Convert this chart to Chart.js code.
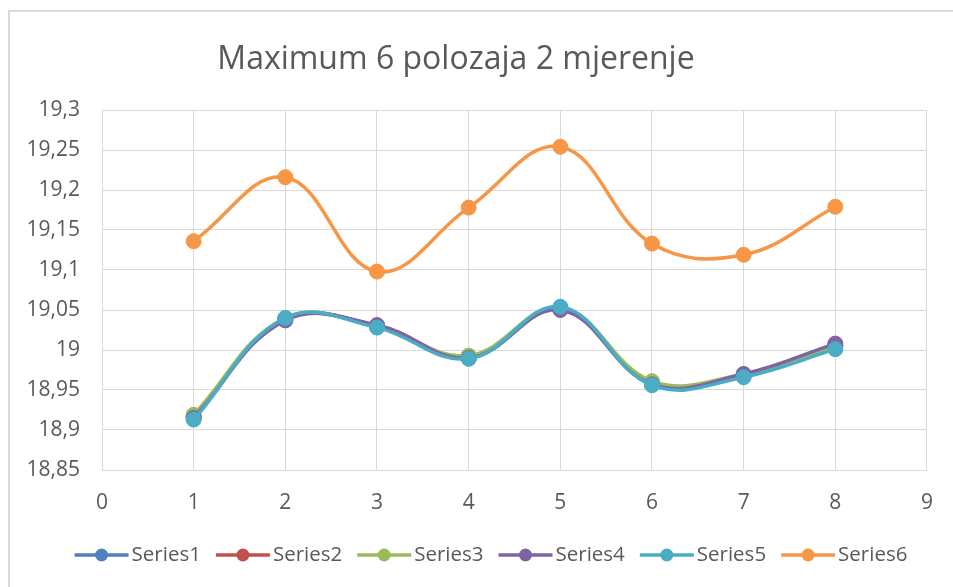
<!DOCTYPE html>
<html>
<head>
<meta charset="utf-8">
<title>Maximum 6 polozaja 2 mjerenje</title>
<script src="https://cdn.jsdelivr.net/npm/chart.js@4.4.1/dist/chart.umd.min.js"></script>
<style>
  html, body { margin: 0; padding: 0; background: #fff; }
  #wrap { width: 953px; height: 587px; position: relative; }
</style>
</head>
<body>
<div id="wrap"><canvas id="chart" width="953" height="587"></canvas></div>
<script>
// measurement positions 1..8
const positions = [1, 2, 3, 4, 5, 6, 7, 8];

const series1 = [18.916, 19.039, 19.030, 18.990, 19.052, 18.958, 18.968, 19.005];
const series2 = [18.917, 19.038, 19.031, 18.991, 19.051, 18.959, 18.969, 19.006];
const series3 = [18.919, 19.040, 19.029, 18.993, 19.053, 18.961, 18.970, 19.004];
const series4 = [18.915, 19.037, 19.031, 18.990, 19.050, 18.957, 18.970, 19.008];
const series5 = [18.913, 19.040, 19.028, 18.989, 19.054, 18.956, 18.966, 19.001];
const series6 = [19.136, 19.216, 19.098, 19.178, 19.254, 19.133, 19.119, 19.179];

const seriesNames = ['Series1', 'Series2', 'Series3', 'Series4', 'Series5', 'Series6'];
const seriesData = [series1, series2, series3, series4, series5, series6];
const colors = ['#4F81BD', '#C0504D', '#9BBB59', '#8064A2', '#4BACC6', '#F79646'];

const xMin = 0, xMax = 9, xStep = 1;
const yMin = 18.85, yMax = 19.3, yStep = 0.05;

const titleText = 'Maximum 6 polozaja 2 mjerenje';
const textColor = '#595959';
const gridColor = '#D9D9D9';
const fontFamily = '"Open Sans", "Noto Sans", sans-serif';

// decimal comma, no trailing zeros
const fmt = v => String(+v.toFixed(2)).replace('.', ',');

// outer frame, title and the line+marker legend row
const decorPlugin = {
    id: 'decor',
    beforeDraw(chart) {
        const c = chart.ctx;
        c.save();
        c.strokeStyle = gridColor;
        c.lineWidth = 2;
        c.beginPath();
        c.moveTo(9, chart.height);
        c.lineTo(9, 11);
        c.lineTo(chart.width, 11);
        c.stroke();
        c.restore();
    },
    afterDraw(chart) {
        const c = chart.ctx;
        c.save();
        c.font = '32px ' + fontFamily;
        c.fillStyle = textColor;
        c.textAlign = 'center';
        c.textBaseline = 'alphabetic';
        c.fillText(titleText, 456, 69);

        // legend
        c.font = '20.5px ' + fontFamily;
        c.textAlign = 'left';
        c.textBaseline = 'middle';
        const lineLen = 54, gap = 3, spacing = 15, cy = 555;
        const items = chart.data.datasets.map(ds => ({
            text: ds.label,
            color: ds.borderColor,
            w: lineLen + gap + c.measureText(ds.label).width
        }));
        const total = items.reduce((s, it) => s + it.w, 0) + spacing * (items.length - 1);
        let x = 491 - total / 2;
        items.forEach(it => {
            c.strokeStyle = it.color;
            c.lineWidth = 3.5;
            c.beginPath();
            c.moveTo(x, cy);
            c.lineTo(x + lineLen, cy);
            c.stroke();
            c.fillStyle = it.color;
            c.beginPath();
            c.arc(x + lineLen / 2, cy, 6.5, 0, Math.PI * 2);
            c.fill();
            c.fillStyle = textColor;
            c.fillText(it.text, x + lineLen + gap, cy);
            x += it.w + spacing;
        });
        c.restore();
    }
};

const datasets = seriesNames.map((name, i) => ({
    label: name,
    data: positions.map((x, j) => ({ x: x, y: seriesData[i][j] })),
    borderColor: colors[i],
    backgroundColor: colors[i],
    pointBackgroundColor: colors[i],
    pointBorderColor: colors[i],
    borderWidth: 3.5,
    pointRadius: 7.5,
    pointBorderWidth: 1,
    tension: 0.4,
    fill: false,
    order: seriesNames.length - 1 - i
}));

const ctx = document.getElementById('chart').getContext('2d');
const chart = new Chart(ctx, {
    type: 'line',
    data: { datasets },
    plugins: [decorPlugin],
    options: {
        responsive: false,
        animation: false,
        layout: { padding: { top: 110, left: 0, right: 17, bottom: 50 } },
        plugins: {
            title: { display: false },
            tooltip: { enabled: false },
            legend: { display: false }
        },
        scales: {
            x: {
                type: 'linear',
                min: xMin,
                max: xMax,
                afterFit(scale) { scale.height = 67; },
                grid: { color: gridColor, drawTicks: false },
                border: { color: gridColor },
                ticks: {
                    stepSize: xStep,
                    padding: 20,
                    color: textColor,
                    font: { family: fontFamily, size: 21 },
                    maxRotation: 0
                }
            },
            y: {
                min: yMin,
                max: yMax,
                afterFit(scale) { scale.width = 102; },
                grid: { color: gridColor, drawTicks: false },
                border: { color: gridColor },
                ticks: {
                    stepSize: yStep,
                    padding: 22,
                    color: textColor,
                    font: { family: fontFamily, size: 21 },
                    callback: v => fmt(v)
                }
            }
        }
    }
});
</script>
</body>
</html>
